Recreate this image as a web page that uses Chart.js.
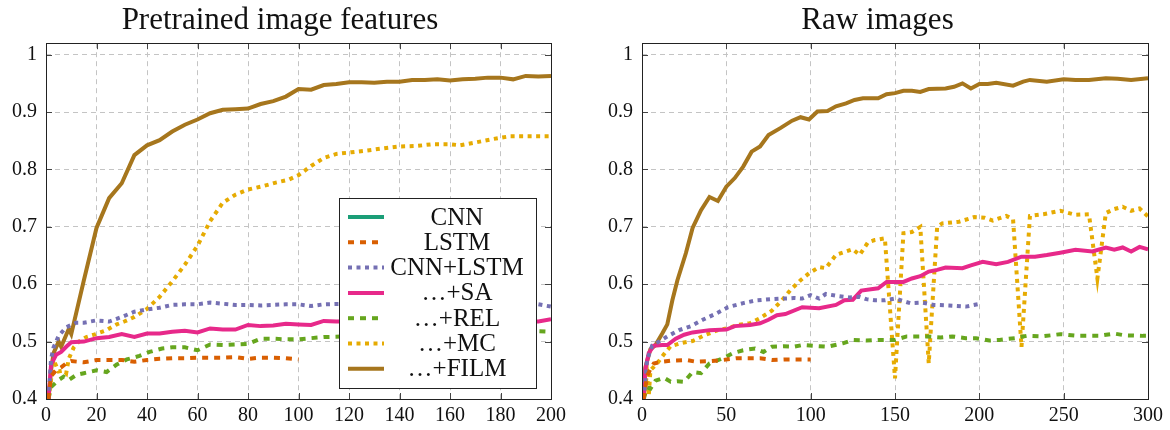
<!DOCTYPE html>
<html>
<head>
<meta charset="utf-8">
<title>Accuracy curves</title>
<script src="https://cdn.jsdelivr.net/npm/chart.js@4.4.1/dist/chart.umd.min.js"></script>
<style>
  body { margin: 0; background: #fff; }
  .panel { position: absolute; top: 0; height: 430px; }
</style>
</head>
<body>
<div class="panel" style="left:0;width:575px"><canvas id="pretrained" width="575" height="430"></canvas></div>
<div class="panel" style="left:590px;width:580px"><canvas id="raw" width="580" height="430"></canvas></div>
<script>
// series names, colours and line dashes (shared by both panels)
const seriesNames = ['CNN', 'LSTM', 'CNN+LSTM', '\u2026+SA', '\u2026+REL', '\u2026+MC', '\u2026+FILM'];
const seriesColors = ['#1b9e77', '#d95f02', '#7570b3', '#e7298a', '#66a61e', '#e6ab02', '#a6761d'];
const seriesDash = [[], [6, 6], [4, 4.5], [], [6, 6], [4, 4.5], []];

// y ticks
const yTicks = [0.4, 0.5, 0.6, 0.7, 0.8, 0.9, 1];

// ---- pretrained image features: [epoch, accuracy] ----
const cnnPre = [];
const lstmPre = [[1, 0.40], [2, 0.44], [4, 0.45], [6, 0.455], [8, 0.462], [10, 0.466], [15, 0.464], [20, 0.468],
  [25, 0.468], [30, 0.468], [35, 0.465], [40, 0.468], [45, 0.47], [50, 0.471], [55, 0.471], [60, 0.472],
  [65, 0.472], [70, 0.472], [75, 0.473], [80, 0.47], [85, 0.472], [90, 0.472], [95, 0.471], [100, 0.469]];
const cnnLstmPre = [[1, 0.40], [2, 0.47], [3, 0.49], [5, 0.51], [8, 0.525], [12, 0.533], [15, 0.533], [20, 0.537],
  [25, 0.535], [30, 0.543], [35, 0.552], [40, 0.556], [45, 0.559], [50, 0.564], [55, 0.565], [60, 0.565],
  [65, 0.568], [70, 0.566], [75, 0.564], [80, 0.564], [85, 0.563], [90, 0.564], [95, 0.565], [100, 0.565],
  [105, 0.562], [110, 0.565], [120, 0.566], [140, 0.565], [160, 0.566], [180, 0.565], [195, 0.565], [200, 0.561]];
const saPre = [[1, 0.40], [2, 0.46], [4, 0.477], [6, 0.482], [8, 0.491], [10, 0.499], [15, 0.5], [20, 0.506],
  [25, 0.508], [30, 0.513], [35, 0.508], [40, 0.514], [45, 0.514], [50, 0.517], [55, 0.519], [60, 0.516],
  [65, 0.523], [70, 0.521], [75, 0.521], [80, 0.529], [85, 0.527], [90, 0.528], [95, 0.531], [100, 0.53],
  [105, 0.529], [110, 0.536], [115, 0.535], [140, 0.536], [170, 0.535], [195, 0.535], [200, 0.539]];
const relPre = [[1, 0.40], [2, 0.421], [5, 0.433], [7, 0.439], [9, 0.433], [12, 0.442], [15, 0.445], [20, 0.45],
  [24, 0.447], [28, 0.46], [32, 0.469], [37, 0.475], [41, 0.482], [46, 0.488], [50, 0.49], [55, 0.49],
  [60, 0.485], [65, 0.495], [70, 0.494], [75, 0.495], [80, 0.496], [85, 0.505], [90, 0.505], [95, 0.504],
  [100, 0.504], [105, 0.506], [110, 0.508], [140, 0.511], [170, 0.515], [195, 0.518], [200, 0.517]];
const mcPre = [[1, 0.40], [3, 0.468], [5, 0.448], [7, 0.45], [8, 0.445], [9, 0.47], [11, 0.49], [13, 0.5],
  [16, 0.508], [19, 0.512], [24, 0.52], [28, 0.53], [31, 0.535], [35, 0.543], [40, 0.557], [45, 0.578],
  [50, 0.605], [55, 0.634], [60, 0.667], [65, 0.71], [70, 0.742], [75, 0.756], [80, 0.765], [86, 0.771],
  [91, 0.777], [96, 0.782], [100, 0.79], [105, 0.806], [110, 0.82], [115, 0.827], [121, 0.83], [127, 0.833],
  [134, 0.837], [140, 0.84], [147, 0.841], [153, 0.844], [160, 0.844], [164, 0.842], [170, 0.847],
  [177, 0.853], [184, 0.858], [190, 0.858], [200, 0.858]];
const filmPre = [[1, 0.40], [2, 0.45], [3, 0.48], [5, 0.50], [6, 0.491], [9, 0.522], [10, 0.513], [15, 0.607],
  [20, 0.698], [25, 0.75], [30, 0.776], [35, 0.825], [40, 0.842], [45, 0.851], [50, 0.866], [55, 0.878],
  [60, 0.887], [65, 0.898], [70, 0.904], [75, 0.905], [80, 0.906], [85, 0.914], [90, 0.919], [95, 0.927],
  [100, 0.94], [105, 0.939], [110, 0.947], [115, 0.949], [120, 0.952], [125, 0.952], [130, 0.951],
  [135, 0.953], [140, 0.953], [145, 0.956], [150, 0.956], [155, 0.957], [160, 0.955], [165, 0.957],
  [170, 0.958], [175, 0.96], [180, 0.96], [185, 0.957], [190, 0.963], [195, 0.962], [200, 0.963]];

// ---- raw images: [epoch, accuracy] ----
const cnnRaw = [];
const lstmRaw = [[1, 0.40], [3, 0.44], [5, 0.452], [7, 0.462], [12, 0.465], [18, 0.467], [26, 0.468], [32, 0.465],
  [40, 0.466], [48, 0.468], [56, 0.471], [64, 0.471], [70, 0.471], [77, 0.468], [84, 0.469], [92, 0.469],
  [100, 0.469]];
const cnnLstmRaw = [[1, 0.40], [3, 0.468], [6, 0.493], [10, 0.5], [15, 0.509], [22, 0.52], [29, 0.527],
  [36, 0.538], [44, 0.549], [51, 0.56], [60, 0.567], [68, 0.572], [77, 0.574], [84, 0.575], [90, 0.576],
  [95, 0.575], [100, 0.581], [105, 0.575], [109, 0.583], [115, 0.58], [123, 0.577], [129, 0.578],
  [133, 0.574], [138, 0.572], [144, 0.572], [150, 0.575], [159, 0.567], [166, 0.568], [173, 0.564],
  [182, 0.563], [192, 0.561], [199, 0.565]];
const saRaw = [[1, 0.40], [2, 0.452], [4, 0.48], [7, 0.493], [12, 0.494], [15, 0.494], [20, 0.505], [25, 0.512],
  [30, 0.516], [40, 0.52], [50, 0.521], [55, 0.527], [64, 0.529], [70, 0.532], [75, 0.538], [80, 0.546],
  [85, 0.548], [95, 0.56], [105, 0.558], [115, 0.564], [120, 0.572], [125, 0.573], [130, 0.589], [140, 0.593],
  [145, 0.604], [155, 0.604], [160, 0.61], [165, 0.614], [170, 0.622], [175, 0.625], [180, 0.629],
  [190, 0.628], [195, 0.633], [202, 0.639], [210, 0.635], [217, 0.639], [225, 0.648], [233, 0.648],
  [240, 0.651], [248, 0.655], [257, 0.66], [267, 0.657], [275, 0.664], [280, 0.66], [285, 0.664],
  [290, 0.657], [295, 0.665], [300, 0.661]];
const relRaw = [[1, 0.40], [3, 0.42], [5, 0.418], [8, 0.432], [13, 0.437], [17, 0.43], [21, 0.431], [25, 0.43],
  [30, 0.447], [35, 0.445], [40, 0.462], [48, 0.471], [54, 0.48], [60, 0.485], [67, 0.488], [72, 0.482],
  [77, 0.491], [84, 0.492], [90, 0.491], [95, 0.494], [105, 0.492], [110, 0.491], [119, 0.497], [125, 0.503],
  [133, 0.502], [140, 0.503], [150, 0.503], [157, 0.509], [169, 0.509], [177, 0.507], [184, 0.509],
  [192, 0.506], [198, 0.506], [206, 0.502], [212, 0.503], [221, 0.506], [228, 0.51], [237, 0.509],
  [248, 0.513], [258, 0.51], [271, 0.51], [280, 0.514], [286, 0.511], [297, 0.51], [300, 0.51]];
const mcRaw = [[1, 0.40], [3, 0.445], [4, 0.405], [5, 0.45], [9, 0.462], [13, 0.478], [17, 0.492], [24, 0.498],
  [30, 0.501], [37, 0.511], [45, 0.52], [50, 0.523], [57, 0.529], [64, 0.532], [70, 0.541], [77, 0.554],
  [83, 0.572], [88, 0.59], [94, 0.607], [99, 0.619], [105, 0.63], [109, 0.628], [115, 0.651], [125, 0.661],
  [129, 0.651], [134, 0.673], [138, 0.677], [144, 0.68], [150, 0.436], [155, 0.689], [160, 0.691],
  [165, 0.70], [170, 0.462], [175, 0.70], [178, 0.706], [188, 0.709], [197, 0.717], [203, 0.716],
  [208, 0.711], [216, 0.719], [220, 0.713], [225, 0.491], [230, 0.719], [238, 0.722], [248, 0.728],
  [257, 0.721], [265, 0.722], [270, 0.61], [275, 0.724], [280, 0.731], [285, 0.735], [290, 0.728],
  [295, 0.732], [300, 0.718]];
const filmRaw = [[1, 0.40], [2, 0.455], [5, 0.487], [8, 0.494], [12, 0.514], [15, 0.53], [18, 0.572], [21, 0.607],
  [26, 0.654], [30, 0.698], [35, 0.729], [40, 0.752], [45, 0.745], [50, 0.77], [55, 0.785], [60, 0.805],
  [65, 0.831], [70, 0.84], [75, 0.86], [82, 0.872], [89, 0.885], [94, 0.891], [99, 0.887], [104, 0.901],
  [110, 0.902], [115, 0.91], [121, 0.915], [126, 0.921], [131, 0.924], [140, 0.924], [145, 0.931],
  [150, 0.933], [155, 0.937], [160, 0.937], [165, 0.935], [170, 0.94], [180, 0.941], [185, 0.944],
  [190, 0.95], [195, 0.941], [200, 0.949], [205, 0.949], [210, 0.951], [220, 0.946], [226, 0.953],
  [230, 0.956], [240, 0.953], [250, 0.957], [257, 0.956], [265, 0.956], [275, 0.959], [282, 0.958],
  [290, 0.956], [300, 0.959]];

const serif = '"Liberation Serif", "Times New Roman", serif';

// box frame with short inward tick marks on all four sides
const frame = {
  id: 'frame',
  afterDatasetsDraw(chart) {
    const { ctx, chartArea: a, scales } = chart;
    ctx.save();
    ctx.strokeStyle = '#444';
    ctx.lineWidth = 1;
    ctx.beginPath();
    scales.x.ticks.forEach(t => {
      const x = Math.round(scales.x.getPixelForValue(t.value)) + 0.5;
      ctx.moveTo(x, a.bottom); ctx.lineTo(x, a.bottom - 6);
      ctx.moveTo(x, a.top); ctx.lineTo(x, a.top + 6);
    });
    scales.y.ticks.forEach(t => {
      const y = Math.round(scales.y.getPixelForValue(t.value)) + 0.5;
      ctx.moveTo(a.left, y); ctx.lineTo(a.left + 6, y);
      ctx.moveTo(a.right, y); ctx.lineTo(a.right - 6, y);
    });
    ctx.stroke();
    ctx.strokeStyle = '#222';
    ctx.strokeRect(Math.round(a.left) + 0.5, Math.round(a.top) + 0.5,
      Math.round(a.right - a.left), Math.round(a.bottom - a.top));
    ctx.restore();
  }
};

// boxed legend in the lower right of the plot area
const boxLegend = {
  id: 'boxLegend',
  afterDraw(chart) {
    const { ctx, chartArea: a } = chart;
    const w = 197, h = 190;
    const left = Math.round(a.right - 15 - w), top = Math.round(a.bottom - 11 - h);
    ctx.save();
    ctx.fillStyle = '#fff';
    ctx.fillRect(left, top, w, h);
    ctx.strokeStyle = '#222';
    ctx.lineWidth = 1;
    ctx.strokeRect(left + 0.5, top + 0.5, w, h);
    ctx.font = '25px ' + serif;
    ctx.textAlign = 'center';
    ctx.textBaseline = 'middle';
    chart.data.datasets.forEach((ds, i) => {
      const y = top + 19 + i * 25.3;
      ctx.beginPath();
      ctx.setLineDash(ds.borderDash);
      ctx.strokeStyle = ds.borderColor;
      ctx.lineWidth = ds.borderWidth;
      ctx.lineCap = 'butt';
      ctx.moveTo(left + 9, y);
      ctx.lineTo(left + 45, y);
      ctx.stroke();
      ctx.setLineDash([]);
      ctx.fillStyle = '#111';
      ctx.fillText(ds.label, left + 118, y + 1);
    });
    ctx.restore();
  }
};

function makeChart(id, title, series, xMax, xStep, pad, yWidth, withLegend) {
  const datasets = series.map((pts, i) => ({
    label: seriesNames[i],
    data: pts.map(p => ({ x: p[0], y: p[1] })),
    borderColor: seriesColors[i],
    borderDash: seriesDash[i],
    borderWidth: 4,
    borderCapStyle: 'butt',
    pointRadius: 0,
    tension: 0,
    fill: false
  }));
  return new Chart(document.getElementById(id), {
    type: 'line',
    data: { datasets },
    options: {
      responsive: false,
      animation: false,
      devicePixelRatio: 1,
      layout: { padding: pad },
      scales: {
        x: {
          type: 'linear',
          min: 0,
          max: xMax,
          ticks: { stepSize: xStep, padding: 5, color: '#111', font: { family: serif, size: 20 }, maxRotation: 0 },
          grid: { color: '#c4c4c4', drawTicks: false },
          border: { display: false, dash: [5, 4] },
          afterFit: s => { s.height = 31; }
        },
        y: {
          min: 0.4,
          max: 1.02,
          ticks: {
            stepSize: 0.1,
            includeBounds: false,
            padding: 9,
            color: '#111',
            font: { family: serif, size: 20 },
            callback: v => String(Number(v.toFixed(1)))
          },
          afterBuildTicks: s => { s.ticks = yTicks.map(v => ({ value: v })); },
          grid: { color: '#c4c4c4', drawTicks: false },
          border: { display: false, dash: [5, 4] },
          afterFit: s => { s.width = yWidth; }
        }
      },
      plugins: {
        legend: { display: false },
        tooltip: { enabled: false },
        title: {
          display: true,
          text: title,
          color: '#111',
          font: { family: serif, size: 31, weight: 'normal' },
          padding: { top: 2, bottom: 4 }
        }
      }
    },
    plugins: withLegend ? [frame, boxLegend] : [frame]
  });
}

makeChart('pretrained', 'Pretrained image features',
  [cnnPre, lstmPre, cnnLstmPre, saPre, relPre, mcPre, filmPre],
  200, 20, { left: 9, right: 24 }, 37, true);

makeChart('raw', 'Raw images',
  [cnnRaw, lstmRaw, cnnLstmRaw, saRaw, relRaw, mcRaw, filmRaw],
  300, 50, { left: 17, right: 22 }, 35, false);
</script>
</body>
</html>
